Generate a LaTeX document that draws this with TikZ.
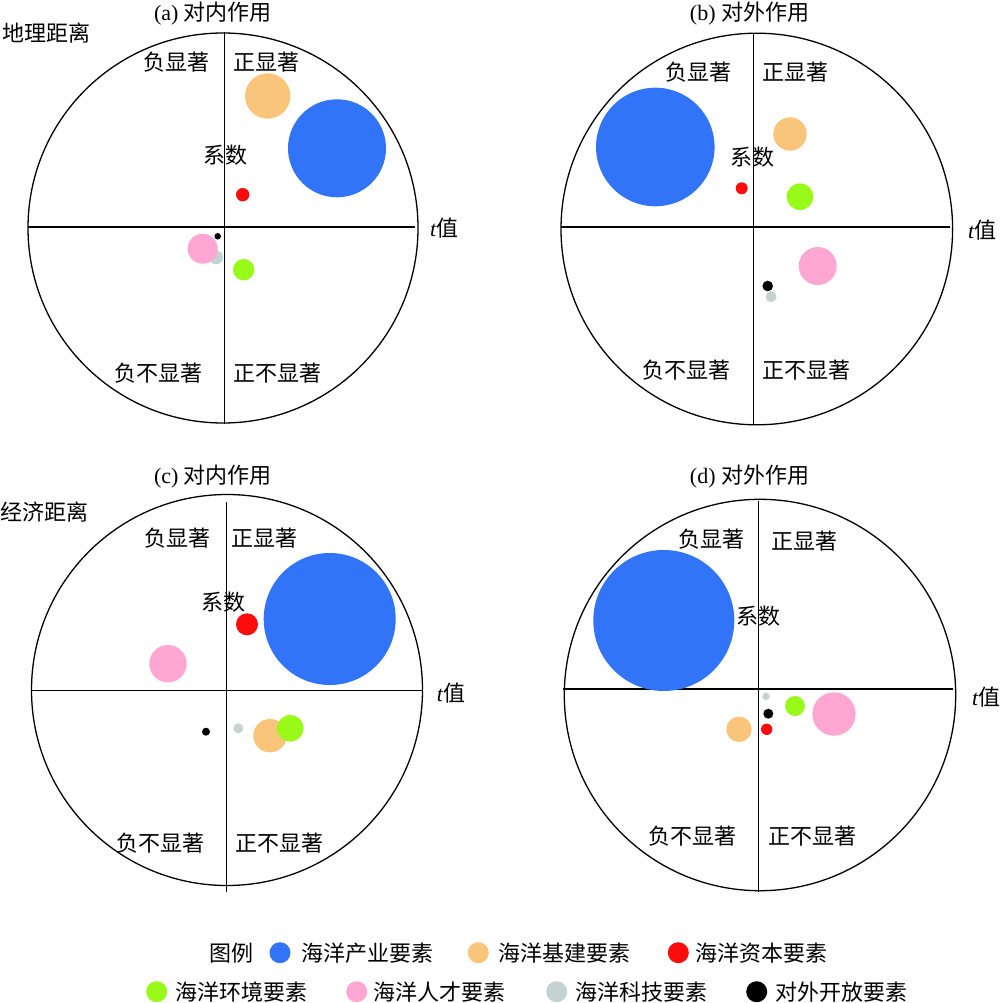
\documentclass[tikz,border=0pt]{standalone}
\usepackage{fontspec}
\setmainfont{Liberation Serif}
\newfontfamily\cjkfont{Noto Sans CJK SC}
\definecolor{cblue}{RGB}{50,116,248}
\definecolor{corange}{RGB}{249,197,122}
\definecolor{cred}{RGB}{252,12,12}
\definecolor{cgreen}{RGB}{153,250,26}
\definecolor{cpink}{RGB}{255,166,210}
\definecolor{cgray}{RGB}{197,210,210}
\definecolor{cblack}{RGB}{0,0,0}
\tikzset{
  lbl/.style={font=\fontsize{22}{26}\selectfont\cjkfont, inner sep=0pt, text height=19.4pt, text depth=2.6pt},
  ttl/.style={font=\fontsize{22}{26}\selectfont, inner sep=0pt, text height=19.4pt, text depth=2.6pt},
  frame/.style={line width=1.3pt},
  axis/.style={line width=1.2pt},
  bub/.style={circle, inner sep=0pt, draw=none, fill=#1},
}
\begin{document}
\begin{tikzpicture}[x=1pt,y=-1pt]
\useasboundingbox (0,0) rectangle (1000,1003);
% ---------- panel (a)
\draw[frame] (223,228) circle[radius=195];
\coordinate (aL) at (28,227); \coordinate (aR) at (415,227);
\coordinate (aT) at (224.3,32); \coordinate (aB) at (224.3,424);
\draw[axis] (aL) -- (aR);
\draw[axis] (aT) -- (aB);
\node[ttl] (atitle) at (213,12) {(a) {\cjkfont 对内作用}};
\node[lbl] (adist) at (46.5,33) {地理距离};
\node[lbl] (anl) at (176,62) {负显著};
\node[lbl] (apl) at (266.5,62) {正显著};
\node[lbl] (acoef) at (225.5,155) {系数};
\node[lbl] (anu) at (158,373) {负不显著};
\node[lbl] (apu) at (277.5,373) {正不显著};
\node[ttl, anchor=west] (at) at (430,228) {\textit{t}{\cjkfont 值}};
\node[bub=corange, minimum size=45.4pt] (a1) at (267.7,96) {};
\node[bub=cblue, minimum size=98pt] (a2) at (337,148.3) {};
\node[bub=cred, minimum size=13.4pt] (a3) at (242.7,194.7) {};
\node[bub=cgray, minimum size=14pt] (a4) at (216,257.3) {};
\node[bub=cpink, minimum size=30pt] (a5) at (202.7,248.7) {};
\node[bub=cblack, minimum size=6.5pt] (a6) at (217.7,236.3) {};
\node[bub=cgreen, minimum size=21.4pt] (a7) at (243.7,269.7) {};
% ---------- panel (b)
\draw[frame] (756.8,229) circle[radius=195.8];
\coordinate (bL) at (561,227); \coordinate (bR) at (950,227);
\coordinate (bT) at (753.3,34); \coordinate (bB) at (753.3,425);
\draw[axis] (bL) -- (bR);
\draw[axis] (bT) -- (bB);
\node[ttl] (btitle) at (749.5,12) {(b) {\cjkfont 对外作用}};
\node[lbl] (bnl) at (698.5,72) {负显著};
\node[lbl] (bpl) at (795,72) {正显著};
\node[lbl] (bcoef) at (752,157) {系数};
\node[lbl] (bnu) at (686.5,370) {负不显著};
\node[lbl] (bpu) at (806.5,370) {正不显著};
\node[ttl, anchor=west] (bt) at (968,230) {\textit{t}{\cjkfont 值}};
\node[bub=cblue, minimum size=118.6pt] (b1) at (655.3,147) {};
\node[bub=corange, minimum size=33.4pt] (b2) at (790,134) {};
\node[bub=cred, minimum size=12pt] (b3) at (741.7,188.3) {};
\node[bub=cgreen, minimum size=26.6pt] (b4) at (800,196.7) {};
\node[bub=cpink, minimum size=38pt] (b5) at (817.7,266) {};
\node[bub=cgray, minimum size=11pt] (b6) at (771,296.7) {};
\node[bub=cblack, minimum size=10.6pt] (b7) at (767.7,286) {};
% ---------- panel (c)
\draw[frame] (227,690) circle[radius=195.5];
\coordinate (cL) at (31.7,690.3); \coordinate (cR) at (421.7,690.3);
\coordinate (cT) at (226.3,501.7); \coordinate (cB) at (226.3,891.7);
\draw[axis] (cL) -- (cR);
\draw[axis] (cT) -- (cB);
\node[ttl] (ctitle) at (213,475) {(c) {\cjkfont 对内作用}};
\node[lbl] (cdist) at (44,511.7) {经济距离};
\node[lbl] (cnl) at (177.5,538) {负显著};
\node[lbl] (cpl) at (264.5,538) {正显著};
\node[lbl] (ccoef) at (223,601.7) {系数};
\node[lbl] (cnu) at (160,842.7) {负不显著};
\node[lbl] (cpu) at (279.5,842.7) {正不显著};
\node[ttl, anchor=west] (ct) at (436.7,692.7) {\textit{t}{\cjkfont 值}};
\node[bub=cblue, minimum size=132pt] (c1) at (329.7,619) {};
\node[bub=cred, minimum size=22pt] (c2) at (247,624.3) {};
\node[bub=cpink, minimum size=37.4pt] (c3) at (168,663.7) {};
\node[bub=cblack, minimum size=8pt] (c4) at (206,731.7) {};
\node[bub=cgray, minimum size=10pt] (c5) at (238.3,728.3) {};
\node[bub=corange, minimum size=33.4pt] (c6) at (270,735.7) {};
\node[bub=cgreen, minimum size=26.6pt] (c7) at (290.3,728.3) {};
% ---------- panel (d)
\draw[frame] (760,695) circle[radius=195.7];
\coordinate (dL) at (563.3,689); \coordinate (dR) at (953.3,689);
\coordinate (dT) at (758.3,500.7); \coordinate (dB) at (758.3,892.3);
\draw[axis] (dL) -- (dR);
\draw[axis] (dT) -- (dB);
\node[ttl] (dtitle) at (749.5,475) {(d) {\cjkfont 对外作用}};
\node[lbl] (dnl) at (711.8,539.3) {负显著};
\node[lbl] (dpl) at (804.8,541) {正显著};
\node[lbl] (dcoef) at (758,616) {系数};
\node[lbl] (dnu) at (692.8,836) {负不显著};
\node[lbl] (dpu) at (812.5,836) {正不显著};
\node[ttl, anchor=west] (dt) at (972,697) {\textit{t}{\cjkfont 值}};
\node[bub=cblue, minimum size=141pt] (d1) at (663.8,620.5) {};
\node[bub=cgray, minimum size=7.4pt] (d2) at (766,696.3) {};
\node[bub=cgreen, minimum size=20pt] (d3) at (795,706) {};
\node[bub=cpink, minimum size=43.4pt] (d4) at (834,714) {};
\node[bub=cblack, minimum size=10pt] (d5) at (768.3,713.7) {};
\node[bub=cred, minimum size=11.4pt] (d6) at (766.7,729.3) {};
\node[bub=corange, minimum size=25.4pt] (d7) at (739,729.3) {};
% ---------- legend
\node[lbl] (legtitle) at (231.7,952.7) {图例};
\node[bub=cblue, minimum size=21pt] (k1) at (280,952.7) {};
\node[lbl, anchor=west] (t1) at (301.7,952.7) {海洋产业要素};
\node[bub=corange, minimum size=21pt] (k2) at (478.3,952.7) {};
\node[lbl, anchor=west] (t2) at (498.3,952.7) {海洋基建要素};
\node[bub=cred, minimum size=21pt] (k3) at (678.3,952.7) {};
\node[lbl, anchor=west] (t3) at (695,952.7) {海洋资本要素};
\node[bub=cgreen, minimum size=21pt] (k4) at (156.7,991.7) {};
\node[lbl, anchor=west] (t4) at (175,991.7) {海洋环境要素};
\node[bub=cpink, minimum size=21pt] (k5) at (356.7,991.7) {};
\node[lbl, anchor=west] (t5) at (373.3,991.7) {海洋人才要素};
\node[bub=cgray, minimum size=21pt] (k6) at (556.7,991.7) {};
\node[lbl, anchor=west] (t6) at (575,991.7) {海洋科技要素};
\node[bub=cblack, minimum size=21pt] (k7) at (756.7,991.7) {};
\node[lbl, anchor=west] (t7) at (775,991.7) {对外开放要素};
\end{tikzpicture}
\end{document}
